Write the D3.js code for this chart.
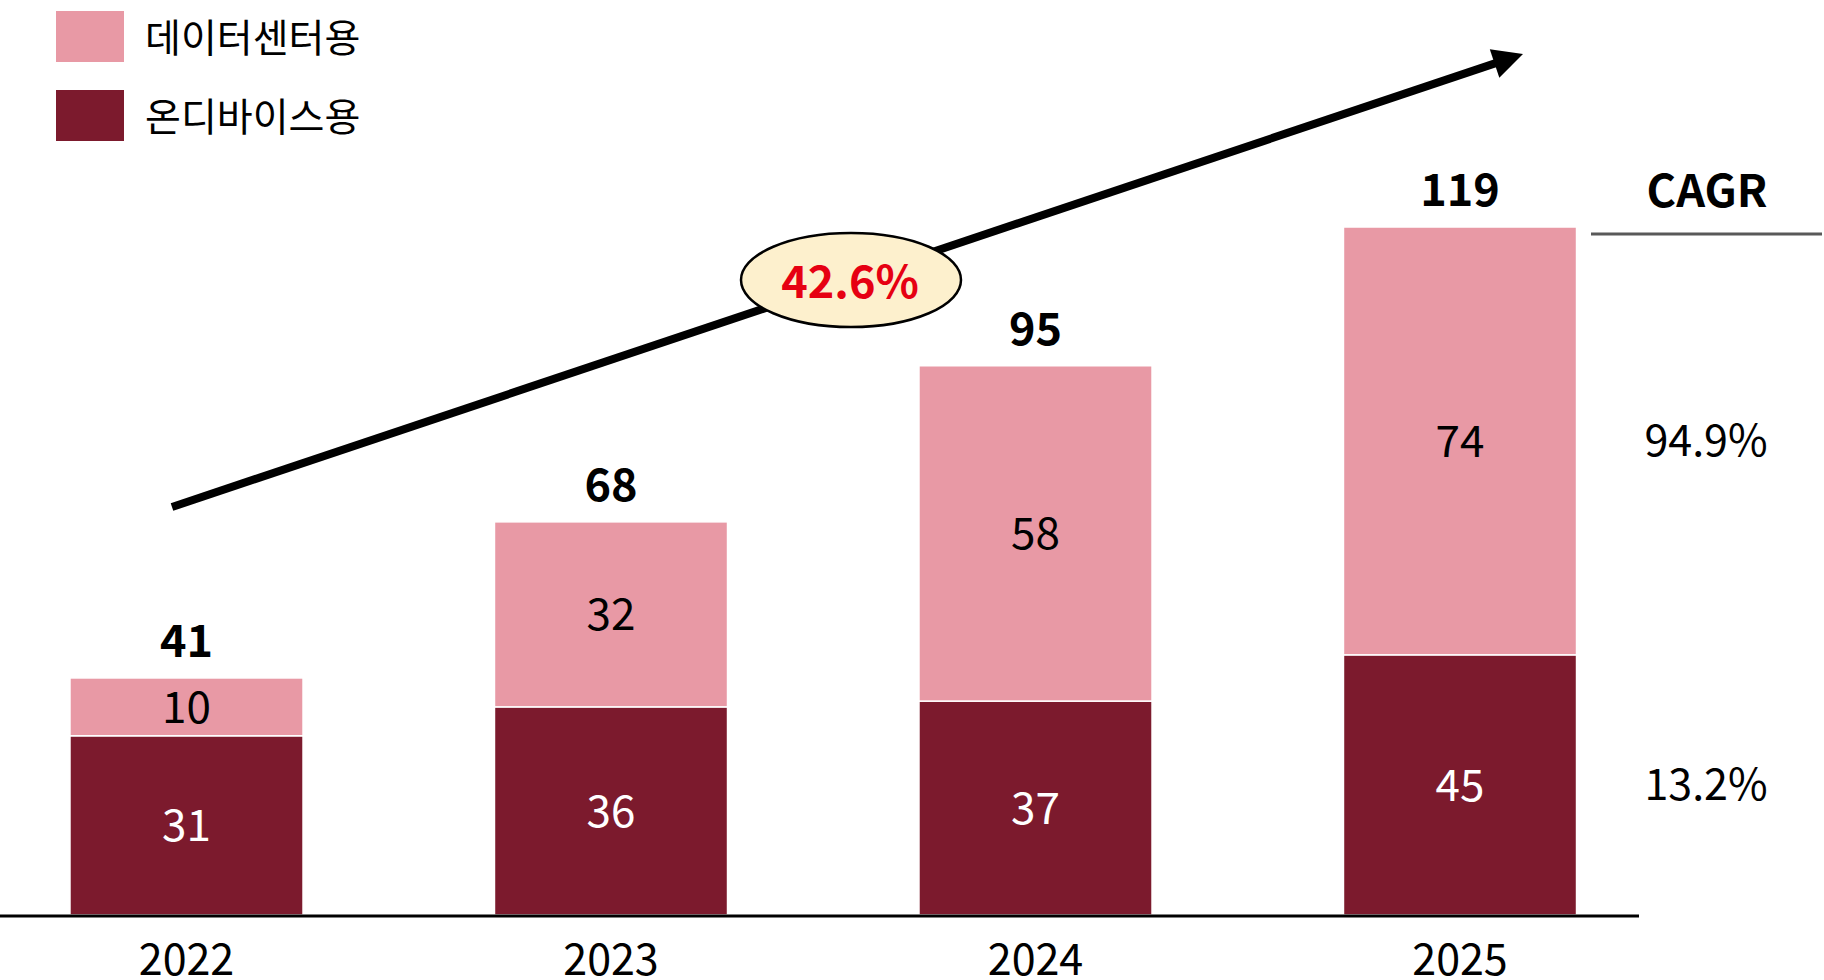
<!DOCTYPE html>
<html>
<head>
<meta charset="utf-8">
<script src="https://cdn.jsdelivr.net/npm/d3@7"></script>
<style>
  body { margin: 0; background: #fff; }
  text { font-family: "Noto Sans CJK KR", "Noto Sans", sans-serif; }
</style>
</head>
<body>
<svg id="chart"></svg>
<script>
// data
var years = ["2022", "2023", "2024", "2025"];
var onDevice = [31, 36, 37, 45];
var dataCenter = [10, 32, 58, 74];
var totals = [41, 68, 95, 119];
var seriesNames = ["데이터센터용", "온디바이스용"];
var cagrValues = ["94.9%", "13.2%"];
var totalCagr = "42.6%";

var colors = {pink: "#E899A5", dark: "#7C1A2D"};
var width = 1824, height = 980;

var svg = d3.select("#chart")
	.attr("width", width)
	.attr("height", height);

var x = d3.scaleBand()
	.domain(years)
	.range([-25.75, 1672.25])
	.paddingInner(0.451)
	.paddingOuter(0.2255);

var y = d3.scaleLinear()
	.domain([0, 119])
	.range([915, 227]);

var rows = years.map(function(d, i) {
	return {year: d, dark: onDevice[i], pink: dataCenter[i], total: totals[i]};
});

//stacked bars
var g = svg.selectAll("g.bar")
	.data(rows)
	.enter()
	.append("g")
	.attr("class", "bar");

g.append("rect")
	.attr("x", function(d) { return x(d.year); })
	.attr("width", x.bandwidth())
	.attr("y", function(d) { return y(d.dark); })
	.attr("height", function(d) { return y(0) - y(d.dark); })
	.attr("fill", colors.dark)
	.attr("stroke", "#fff")
	.attr("stroke-width", 1.5);

g.append("rect")
	.attr("x", function(d) { return x(d.year); })
	.attr("width", x.bandwidth())
	.attr("y", function(d) { return y(d.dark + d.pink); })
	.attr("height", function(d) { return y(d.dark) - y(d.dark + d.pink); })
	.attr("fill", colors.pink)
	.attr("stroke", "#fff")
	.attr("stroke-width", 1.5);

//segment labels
g.append("text")
	.attr("x", function(d) { return x(d.year) + x.bandwidth() / 2; })
	.attr("y", function(d) { return (y(0) + y(d.dark)) / 2; })
	.attr("dy", "0.36em")
	.attr("text-anchor", "middle")
	.attr("font-size", 44)
	.attr("fill", "#fff")
	.text(function(d) { return d.dark; });

g.append("text")
	.attr("x", function(d) { return x(d.year) + x.bandwidth() / 2; })
	.attr("y", function(d) { return (y(d.dark) + y(d.dark + d.pink)) / 2; })
	.attr("dy", "0.36em")
	.attr("text-anchor", "middle")
	.attr("font-size", 44)
	.attr("fill", "#000")
	.text(function(d) { return d.pink; });

//totals
g.append("text")
	.attr("x", function(d) { return x(d.year) + x.bandwidth() / 2; })
	.attr("y", function(d) { return y(d.total) - 21; })
	.attr("text-anchor", "middle")
	.attr("font-size", 45)
	.attr("font-weight", "bold")
	.attr("fill", "#000")
	.text(function(d) { return d.total; });

//x axis
svg.append("line")
	.attr("x1", 0).attr("x2", 1639)
	.attr("y1", 916).attr("y2", 916)
	.attr("stroke", "#000")
	.attr("stroke-width", 3);

svg.selectAll("text.year")
	.data(years)
	.enter()
	.append("text")
	.attr("class", "year")
	.attr("x", function(d) { return x(d) + x.bandwidth() / 2; })
	.attr("y", 975)
	.attr("text-anchor", "middle")
	.attr("font-size", 43)
	.attr("fill", "#000")
	.text(function(d) { return d; });

//legend
var legend = svg.selectAll("g.legend")
	.data(seriesNames)
	.enter()
	.append("g")
	.attr("class", "legend")
	.attr("transform", function(d, i) { return "translate(56," + (11 + i * 79) + ")"; });

legend.append("rect")
	.attr("width", 68)
	.attr("height", 51)
	.attr("fill", function(d, i) { return i == 0 ? colors.pink : colors.dark; });

legend.append("text")
	.attr("x", 89)
	.attr("y", 27)
	.attr("dy", "0.36em")
	.attr("font-size", 39)
	.attr("fill", "#000")
	.text(function(d) { return d; });

//growth arrow
var p0 = [172, 507], p1 = [1523, 54];
var ang = Math.atan2(p1[1] - p0[1], p1[0] - p0[0]);
var headLen = 30, headHalf = 15;
var base = [p1[0] - headLen * Math.cos(ang), p1[1] - headLen * Math.sin(ang)];
svg.append("line")
	.attr("x1", p0[0]).attr("y1", p0[1])
	.attr("x2", base[0] + 2 * Math.cos(ang)).attr("y2", base[1] + 2 * Math.sin(ang))
	.attr("stroke", "#000")
	.attr("stroke-width", 8);
svg.append("path")
	.attr("d", "M" + p1[0] + "," + p1[1] +
		"L" + (base[0] - headHalf * Math.sin(ang)) + "," + (base[1] + headHalf * Math.cos(ang)) +
		"L" + (base[0] + headHalf * Math.sin(ang)) + "," + (base[1] - headHalf * Math.cos(ang)) + "Z")
	.attr("fill", "#000");

svg.append("ellipse")
	.attr("cx", 851).attr("cy", 280)
	.attr("rx", 110).attr("ry", 47)
	.attr("fill", "#FDF0CD")
	.attr("stroke", "#000")
	.attr("stroke-width", 2.5);

svg.append("text")
	.attr("x", 850).attr("y", 298)
	.attr("text-anchor", "middle")
	.attr("font-size", 45)
	.attr("font-weight", "bold")
	.attr("fill", "#E60012")
	.text(totalCagr);

//CAGR column
svg.append("text")
	.attr("x", 1707).attr("y", 207)
	.attr("text-anchor", "middle")
	.attr("font-size", 45)
	.attr("font-weight", "bold")
	.attr("fill", "#000")
	.text("CAGR");

svg.append("line")
	.attr("x1", 1591).attr("x2", 1822)
	.attr("y1", 234).attr("y2", 234)
	.attr("stroke", "#595959")
	.attr("stroke-width", 3);

var last = rows[rows.length - 1];
var cagrY = [(y(last.dark) + y(last.dark + last.pink)) / 2, (y(0) + y(last.dark)) / 2];
svg.selectAll("text.cagr")
	.data(cagrValues)
	.enter()
	.append("text")
	.attr("class", "cagr")
	.attr("x", 1706)
	.attr("y", function(d, i) { return cagrY[i]; })
	.attr("dy", "0.36em")
	.attr("text-anchor", "middle")
	.attr("font-size", 43)
	.attr("fill", "#000")
	.text(function(d) { return d; });
</script>
</body>
</html>
